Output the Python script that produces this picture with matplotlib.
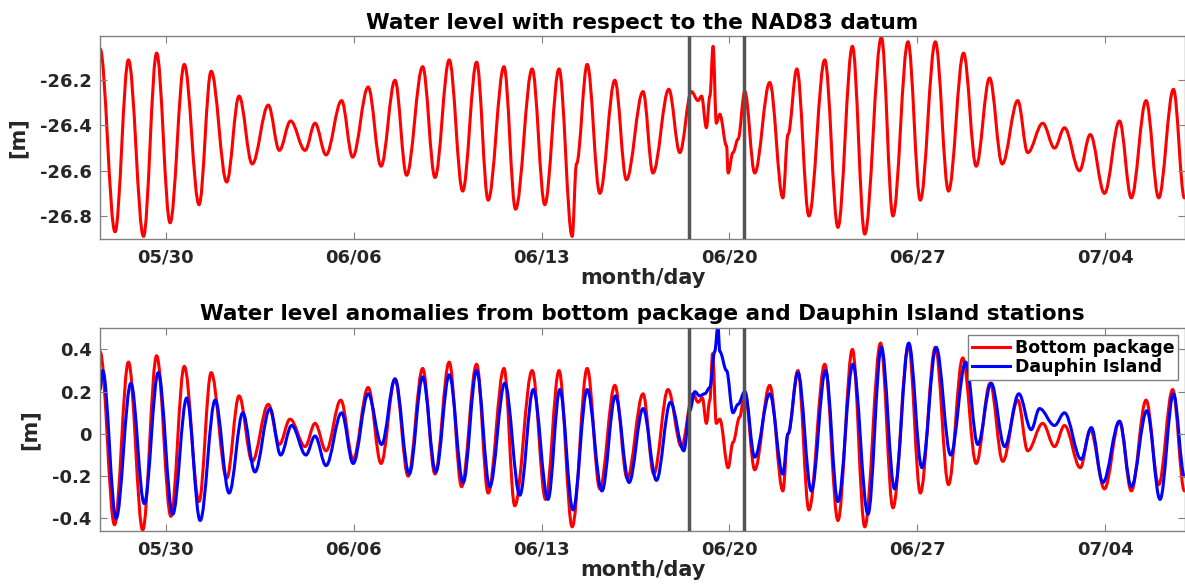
import numpy as np
import pandas as pd
import matplotlib
matplotlib.use('Agg')
import matplotlib.pyplot as plt
import matplotlib.dates as mdates
from matplotlib.ticker import FuncFormatter
from matplotlib.path import Path
from matplotlib.patches import PathPatch
from matplotlib.lines import Line2D

plt.rcParams['font.family'] = 'DejaVu Sans'
plt.rcParams['font.weight'] = 'bold'
plt.rcParams['axes.unicode_minus'] = False

# times are "day of May" (32 = June 1, 62 = July 1) at highs/lows
nad_t = [27.55, 28.11, 28.61, 29.17, 29.66, 30.16, 30.69, 31.24, 31.69, 32.27, 32.73, 33.22,
         33.82, 34.23, 34.65, 35.19, 35.56, 35.97, 36.55, 36.96, 37.54, 38.02, 38.54, 38.97,
         39.57, 40.03, 40.56, 41.06, 41.58, 42.01, 42.60, 43.03, 43.65, 44.12, 44.65, 45.14,
         45.30, 45.70, 46.17, 46.73, 47.16, 47.78, 48.15, 48.74, 49.15, 49.58, 49.83, 49.96,
         50.14, 50.27, 50.39, 50.51, 50.64, 50.89, 50.95, 51.13, 51.32, 51.57, 51.94, 52.50,
         52.99, 53.18, 53.51, 53.96, 54.55, 55.04, 55.58, 56.04, 56.66, 57.09, 57.65, 58.11,
         58.67, 59.16, 59.72, 60.19, 60.69, 61.16, 61.74, 62.11, 62.67, 63.11, 63.48, 64.04,
         64.44, 64.97, 65.53, 65.97, 66.52, 66.99, 67.54, 67.95]
nad_v = [-26.06, -26.87, -26.11, -26.89, -26.08, -26.83, -26.13, -26.75, -26.16, -26.65,
         -26.27, -26.57, -26.31, -26.51, -26.38, -26.51, -26.39, -26.53, -26.29, -26.54,
         -26.23, -26.58, -26.20, -26.62, -26.14, -26.63, -26.11, -26.69, -26.12, -26.73,
         -26.14, -26.77, -26.15, -26.75, -26.15, -26.89, -26.57, -26.13, -26.70, -26.20,
         -26.64, -26.25, -26.61, -26.24, -26.52, -26.25, -26.29, -26.27, -26.41, -26.27,
         -26.05, -26.39, -26.35, -26.49, -26.61, -26.52, -26.46, -26.25, -26.61, -26.21,
         -26.72, -26.44, -26.15, -26.80, -26.11, -26.85, -26.05, -26.88, -26.01, -26.80,
         -26.03, -26.73, -26.03, -26.69, -26.08, -26.58, -26.19, -26.57, -26.29, -26.52,
         -26.39, -26.50, -26.41, -26.60, -26.44, -26.70, -26.38, -26.72, -26.29, -26.72,
         -26.24, -26.72]

bp_t = [27.55, 28.09, 28.61, 29.14, 29.66, 30.19, 30.69, 31.24, 31.69, 32.27, 32.73, 33.22,
        33.82, 34.23, 34.63, 35.19, 35.56, 35.97, 36.52, 36.98, 37.54, 38.02, 38.54, 39.03,
        39.57, 40.03, 40.56, 41.02, 41.58, 42.01, 42.60, 43.00, 43.65, 44.15, 44.65, 45.14,
        45.70, 46.17, 46.73, 47.19, 47.78, 48.18, 48.71, 49.21, 49.64, 49.83, 49.99, 50.14,
        50.27, 50.37, 50.51, 50.64, 50.95, 51.13, 51.38, 51.57, 51.94, 52.50, 52.99, 53.18,
        53.55, 53.96, 54.55, 55.04, 55.58, 56.04, 56.63, 57.09, 57.67, 58.11, 58.67, 59.16,
        59.69, 60.19, 60.71, 61.18, 61.74, 62.11, 62.67, 63.11, 63.48, 64.07, 64.44, 64.97,
        65.53, 65.97, 66.52, 66.99, 67.51, 67.95]
bp_v = [0.39, -0.43, 0.34, -0.455, 0.37, -0.39, 0.32, -0.32, 0.29, -0.21, 0.18, -0.13,
        0.14, -0.05, 0.07, -0.06, 0.05, -0.08, 0.16, -0.12, 0.22, -0.14, 0.26, -0.20,
        0.31, -0.19, 0.34, -0.25, 0.33, -0.28, 0.31, -0.34, 0.30, -0.31, 0.30, -0.44,
        0.31, -0.26, 0.23, -0.21, 0.19, -0.19, 0.21, -0.06, 0.19, 0.15, 0.17, 0.05,
        0.16, 0.38, 0.05, 0.07, -0.16, -0.04, 0.08, 0.20, -0.17, 0.23, -0.27, 0.00,
        0.30, -0.36, 0.33, -0.41, 0.40, -0.44, 0.43, -0.35, 0.42, -0.28, 0.41, -0.24,
        0.36, -0.14, 0.24, -0.13, 0.16, -0.08, 0.05, -0.06, 0.04, -0.16, 0.02, -0.26,
        0.06, -0.27, 0.16, -0.24, 0.21, -0.27]

di_t = [27.55, 27.65, 28.15, 28.70, 29.20, 29.72, 30.26, 30.78, 31.28, 31.84, 32.36, 32.87,
        33.32, 33.88, 34.28, 34.69, 35.22, 35.56, 35.97, 36.55, 36.98, 37.54, 38.04, 38.54,
        39.07, 39.57, 40.06, 40.56, 41.08, 41.58, 42.07, 42.63, 43.19, 43.69, 44.24, 44.68,
        45.17, 45.70, 46.25, 46.75, 47.26, 47.78, 48.28, 48.80, 49.30, 49.52, 49.71, 49.89,
        50.08, 50.27, 50.45, 50.57, 50.64, 50.89, 51.13, 51.32, 51.57, 51.94, 52.50, 52.99,
        53.18, 53.55, 54.05, 54.58, 55.04, 55.60, 56.16, 56.66, 57.15, 57.68, 58.17, 58.70,
        59.24, 59.80, 60.25, 60.75, 61.25, 61.78, 62.24, 62.55, 63.11, 63.48, 64.10, 64.48,
        64.91, 65.53, 65.97, 66.55, 67.04, 67.54, 67.95]
di_v = [0.21, 0.30, -0.40, 0.24, -0.33, 0.29, -0.38, 0.17, -0.41, 0.16, -0.28, 0.10,
        -0.18, 0.12, -0.10, 0.04, -0.10, -0.01, -0.15, 0.10, -0.14, 0.19, -0.05, 0.26,
        -0.19, 0.27, -0.18, 0.28, -0.23, 0.30, -0.25, 0.24, -0.29, 0.21, -0.31, 0.21,
        -0.36, 0.21, -0.27, 0.18, -0.23, 0.12, -0.22, 0.15, -0.08, 0.11, 0.20, 0.18,
        0.19, 0.22, 0.39, 0.51, 0.39, 0.30, 0.10, 0.14, 0.20, -0.11, 0.19, -0.19,
        0.00, 0.29, -0.27, 0.30, -0.32, 0.33, -0.38, 0.41, -0.26, 0.43, -0.16, 0.41,
        -0.10, 0.34, -0.05, 0.24, -0.06, 0.19, 0.02, 0.12, 0.04, 0.10, -0.12, 0.03,
        -0.23, 0.06, -0.25, 0.11, -0.31, 0.19, -0.20]

event_t = [49.49, 51.53]
tick_days = [30, 37, 44, 51, 58, 65]
xlim_days = [27.55, 67.97]


def to_num(days):
    d = pd.Timestamp('2019-05-01') + pd.to_timedelta(np.asarray(days, dtype=float) - 1, unit='D')
    return mdates.date2num(d)


def tide_curve(ax, t, v, color):
    # smooth curve through the read highs/lows (flat at each turning point)
    x = to_num(t)
    y = np.asarray(v, dtype=float)
    verts = [(x[0], y[0])]
    codes = [Path.MOVETO]
    for i in range(len(x) - 1):
        dx = x[i + 1] - x[i]
        verts += [(x[i] + 0.36 * dx, y[i]), (x[i + 1] - 0.36 * dx, y[i + 1]), (x[i + 1], y[i + 1])]
        codes += [Path.CURVE4] * 3
    ax.add_patch(PathPatch(Path(verts, codes), facecolor='none', edgecolor=color, lw=2.2,
                           joinstyle='round', capstyle='round'))


def style(ax):
    for s in ax.spines.values():
        s.set_color('#808080')
        s.set_linewidth(1)
    ax.xaxis_date()
    ax.tick_params(direction='in', length=5, top=True, right=True, color='#808080',
                   labelcolor='#262626', labelsize=13)
    ax.tick_params(axis='x', pad=7)
    ax.tick_params(axis='y', pad=6)
    ax.set_xlim(to_num(xlim_days))
    ax.set_xticks(to_num(tick_days))
    ax.xaxis.set_major_formatter(mdates.DateFormatter('%m/%d'))
    ax.yaxis.set_major_formatter(FuncFormatter(lambda v, p: '%g' % round(v, 2)))
    ax.set_xlabel('month/day', fontsize=15, fontweight='bold', color='#262626', labelpad=1)
    ax.set_ylabel('[m]', fontsize=15, fontweight='bold', color='#262626', labelpad=9)
    for t in to_num(event_t):
        ax.axvline(t, color='#555555', lw=2.5, zorder=5)


fig = plt.figure(figsize=(11.85, 5.86), dpi=100)
ax1 = fig.add_axes([0.0844, 0.592, 0.9156, 0.3464])
ax2 = fig.add_axes([0.0844, 0.0944, 0.9156, 0.3454])

tide_curve(ax1, nad_t, nad_v, 'red')
style(ax1)
ax1.set_ylim(-26.902, -26.005)
ax1.set_yticks([-26.8, -26.6, -26.4, -26.2])
ax1.set_title('Water level with respect to the NAD83 datum', fontsize=15.5, fontweight='bold', pad=5)

tide_curve(ax2, bp_t, bp_v, 'red')
tide_curve(ax2, di_t, di_v, 'blue')
style(ax2)
ax2.set_ylim(-0.458, 0.5)
ax2.set_yticks([-0.4, -0.2, 0, 0.2, 0.4])
ax2.set_title('Water level anomalies from bottom package and Dauphin Island stations',
              fontsize=15.5, fontweight='bold', pad=6)
handles = [Line2D([], [], color='red', lw=2.2), Line2D([], [], color='blue', lw=2.2)]
leg = ax2.legend(handles, ['Bottom package', 'Dauphin Island'], loc='upper right',
                 fontsize=12.5, fancybox=False, edgecolor='#808080', framealpha=1,
                 borderaxespad=0.4, borderpad=0.2, labelspacing=0.1, handlelength=2.2,
                 handletextpad=0.3)
leg.get_frame().set_linewidth(1)
leg.set_zorder(10)

fig.savefig('out.png', dpi=100)
